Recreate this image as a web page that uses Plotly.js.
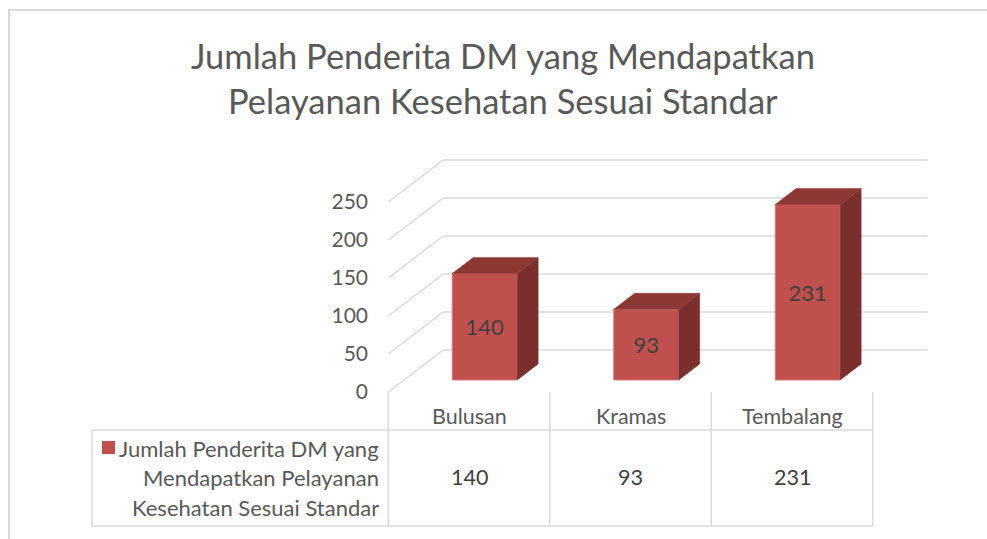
<!DOCTYPE html>
<html>
<head>
<meta charset="utf-8">
<script src="https://cdn.plot.ly/plotly-3.0.1.min.js"></script>
<style>
  html, body { margin: 0; padding: 0; background: #fff; overflow: hidden; }
  #frame { position: absolute; left: 8px; top: 9px; width: 1200px; height: 800px;
           border-left: 2px solid #d9d9d9; border-top: 2px solid #d9d9d9; }
  #chart { position: absolute; left: 0; top: 0; width: 987px; height: 539px; }
</style>
</head>
<body>
<div id="frame"></div>
<div id="chart"></div>
<script>
// ---- data ----
const categories = ['Bulusan', 'Kramas', 'Tembalang'];
const values = [140, 93, 231];
const seriesLines = ['Jumlah Penderita DM yang', 'Mendapatkan Pelayanan', 'Kesehatan Sesuai Standar'];
const yTicks = [0, 50, 100, 150, 200, 250];
const titleLines = ['Jumlah Penderita DM yang Mendapatkan', 'Pelayanan Kesehatan Sesuai Standar'];

// ---- geometry (layout only) ----
const W = 987, H = 539;
const L = 90, R = 932, T = 140, B = 532;
const PXC = 161.5;          // px per category
const X0 = 469;             // px of category 0 centre (front plane)
const PXU = 0.76;           // px per value unit
const Y0 = 392;             // px of value 0 (front plane)
const px = p => (p - X0) / PXC;
const py = p => (Y0 - p) / PXU;
const DX = 55 / PXC;        // full depth offset in x units
const DY = 42 / PXU;        // full depth offset in y units
const f0 = 12 / 42;         // bar front depth fraction
const fd = 16 / 42;         // bar depth fraction
const BW = 65 / PXC;        // bar width

const FONT = 'Lato, "Open Sans", sans-serif';
const GRID = '#d9d9d9';
const nCat = categories.length;
const xLeftWall = -0.5, xRightEdge = nCat - 0.5;

// gridlines as shapes (below traces)
const shapes = [];
yTicks.forEach(v => {
  shapes.push({type: 'line', xref: 'x', yref: 'y', layer: 'below',
    x0: xLeftWall, y0: v, x1: xLeftWall + DX, y1: v + DY, line: {color: GRID, width: 1.5}});
  shapes.push({type: 'line', xref: 'x', yref: 'y', layer: 'below',
    x0: xLeftWall + DX, y0: v + DY, x1: xRightEdge + DX, y1: v + DY, line: {color: GRID, width: 1.5}});
});
// data table lines
const yTblRow = py(430), yTblBot = py(526), xTblLeft = px(92);
for (let i = 0; i <= nCat; i++) {
  shapes.push({type: 'line', xref: 'x', yref: 'y', layer: 'below',
    x0: i - 0.5, y0: 0, x1: i - 0.5, y1: yTblBot, line: {color: GRID, width: 1.5}});
}
shapes.push({type: 'line', xref: 'x', yref: 'y', layer: 'below',
  x0: xTblLeft, y0: yTblRow, x1: xRightEdge, y1: yTblRow, line: {color: GRID, width: 1.5}});
shapes.push({type: 'line', xref: 'x', yref: 'y', layer: 'below',
  x0: xTblLeft, y0: yTblBot, x1: xRightEdge, y1: yTblBot, line: {color: GRID, width: 1.5}});
shapes.push({type: 'line', xref: 'x', yref: 'y', layer: 'below',
  x0: xTblLeft, y0: yTblRow, x1: xTblLeft, y1: yTblBot, line: {color: GRID, width: 1.5}});
// legend key
shapes.push({type: 'rect', xref: 'x', yref: 'y', layer: 'above',
  x0: px(102), x1: px(115), y0: py(441), y1: py(454), fillcolor: '#C0504D', line: {width: 0}});

// bars
const xs = values.map((v, i) => i + f0 * DX);
const base = f0 * DY;
const traces = [];
traces.push({
  type: 'bar', x: xs, y: values, base: values.map(() => base), width: BW,
  marker: {color: '#C0504D', line: {color: '#D6817E', width: 1}},
  text: values.map(String), textposition: 'inside', insidetextanchor: 'middle',
  textangle: 0, constraintext: 'none',
  textfont: {family: FONT, size: 22, color: '#404040'},
  hoverinfo: 'skip', showlegend: false
});
// side faces and top faces
const sx = [], sy = [], tx = [], ty = [];
values.forEach((v, i) => {
  const xl = xs[i] - BW / 2, xr = xs[i] + BW / 2;
  const ddx = fd * DX, ddy = fd * DY;
  sx.push(xr, xr + ddx, xr + ddx, xr, xr, null);
  sy.push(base, base + ddy, base + v + ddy, base + v, base, null);
  tx.push(xl, xr, xr + ddx, xl + ddx, xl, null);
  ty.push(base + v, base + v, base + v + ddy, base + v + ddy, base + v, null);
});
traces.push({type: 'scatter', mode: 'lines', x: sx, y: sy, fill: 'toself',
  fillcolor: '#7B2F2D', line: {color: '#7B2F2D', width: 0.5}, hoverinfo: 'skip', showlegend: false});
traces.push({type: 'scatter', mode: 'lines', x: tx, y: ty, fill: 'toself',
  fillcolor: '#8E3836', line: {color: '#8E3836', width: 0.5}, hoverinfo: 'skip', showlegend: false});

// annotations
const ann = [];
const paperX = p => (p - L) / (R - L);
const paperY = p => (B - p) / (B - T);
titleLines.forEach((t, k) => {
  ann.push({text: t, xref: 'paper', yref: 'paper', x: paperX(502.5), y: paperY(55 + 46 * k),
    xanchor: 'center', yanchor: 'middle', showarrow: false,
    font: {family: FONT, size: 34.5, color: '#595959'}});
});
categories.forEach((c, i) => {
  ann.push({text: c, xref: 'x', yref: 'y', x: i, y: py(416), xanchor: 'center', yanchor: 'middle',
    showarrow: false, font: {family: FONT, size: 21.5, color: '#595959'}});
  ann.push({text: String(values[i]), xref: 'x', yref: 'y', x: i, y: py(477), xanchor: 'center', yanchor: 'middle',
    showarrow: false, font: {family: FONT, size: 21.5, color: '#404040'}});
});
seriesLines.forEach((s, k) => {
  ann.push({text: s, xref: 'x', yref: 'y', x: px(381), y: py(448 + 29.5 * k), xanchor: 'right', yanchor: 'middle',
    showarrow: false, font: {family: FONT, size: 22, color: '#595959'}});
});

const layout = {
  width: W, height: H,
  margin: {l: L, r: W - R, t: T, b: H - B, pad: 0},
  paper_bgcolor: 'rgba(0,0,0,0)', plot_bgcolor: 'rgba(0,0,0,0)',
  showlegend: false,
  xaxis: {range: [px(L), px(R)], visible: false, fixedrange: true},
  yaxis: {range: [py(B), py(T)], anchor: 'free', position: paperX(388),
    tickvals: yTicks, ticktext: yTicks.map(String), showgrid: false, zeroline: false,
    showline: false, ticks: '', ticklabelstandoff: 20,
    tickfont: {family: FONT, size: 21, color: '#595959'}, fixedrange: true},
  shapes: shapes, annotations: ann
};
Plotly.newPlot('chart', traces, layout, {displayModeBar: false, staticPlot: true});
</script>
</body>
</html>
